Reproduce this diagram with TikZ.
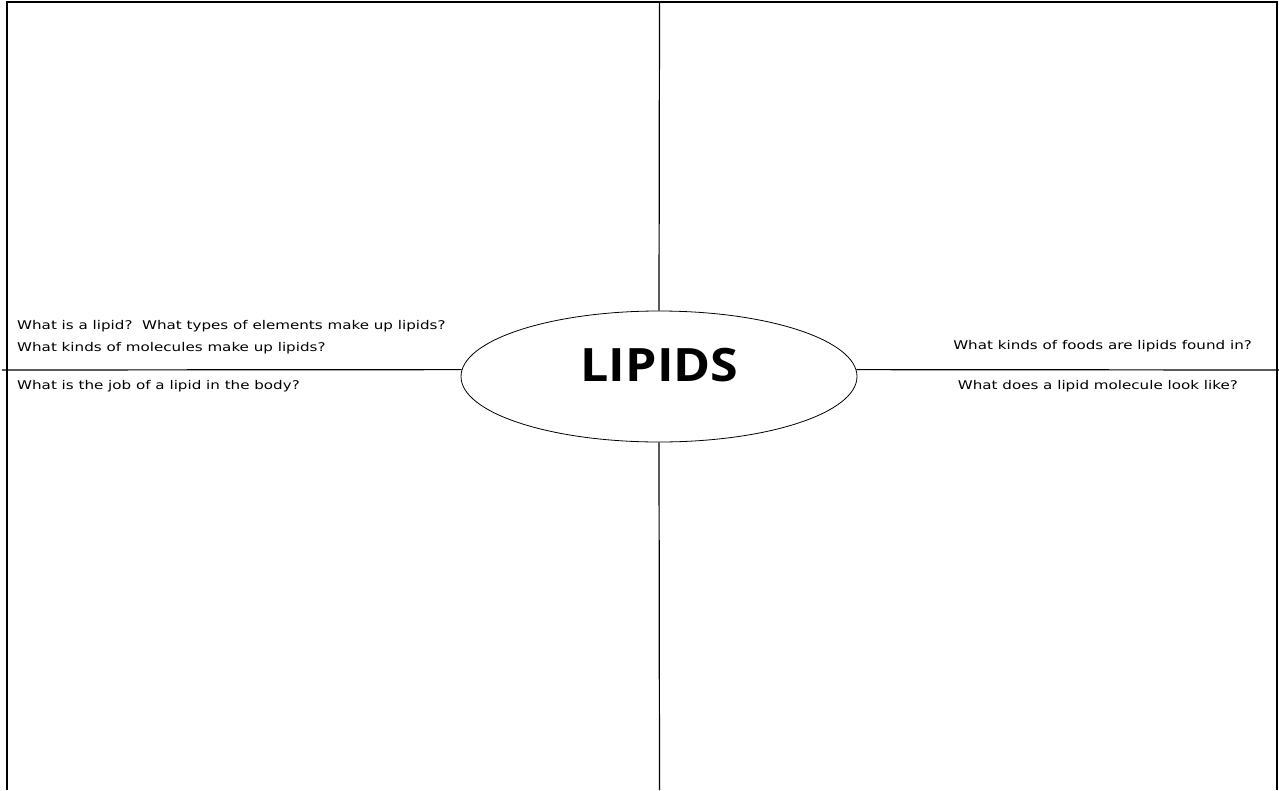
\documentclass[tikz,border=0pt]{standalone}
\usepackage{fontspec}
\usepackage{tikz}
\usetikzlibrary{shapes.geometric, positioning}
\newfontfamily\qfont{DejaVu Sans}
\newfontfamily\titlefont{Open Sans}
\newcommand{\widetext}[1]{\scalebox{1.26}[1]{#1}}
\tikzset{
	frameline/.style={draw=black, line width=1.2pt},
	centre/.style={ellipse, draw=black, line width=0.8pt, minimum width=396pt, minimum height=131pt, inner sep=0pt, fill=white},
	question/.style={inner sep=0pt, font=\qfont\fontsize{12}{14}\selectfont},
}
\begin{document}
\begin{tikzpicture}[x=1pt, y=-1pt]
	\useasboundingbox (0,0) rectangle (1279,790);
	% outer frame, open at the bottom
	\coordinate (bl) at (7,790);
	\coordinate (tl) at (7,2);
	\coordinate (tr) at (1277,2);
	\coordinate (br) at (1277,790);
	\draw[frameline] (bl) -- (tl) -- (tr) -- (br);
	% central topic
	\node[centre] (core) at (659,376.5) {};
	\node[inner sep=0pt, font=\titlefont\bfseries\fontsize{46}{46}\selectfont] (title) at (659.5,365) {\scalebox{1.09}[1]{LIPIDS}};
	% dividing lines
	\coordinate (top) at (659.5,2);
	\coordinate (bottom) at (659.5,790);
	\coordinate (far left) at (2,370);
	\coordinate (far right) at (1279,370);
	\draw[frameline] (top) -- (core.north);
	\draw[frameline] (core.south) -- (bottom);
	\draw[frameline] (far left) -- (core.178);
	\draw[frameline] (core.2) -- (far right);
	% questions
	\node[question, anchor=base west] (q1) at (17,329) {\widetext{What is a lipid?\ \ What types of elements make up lipids?}};
	\node[question, anchor=base west] (q2) at (17,351) {\widetext{What kinds of molecules make up lipids?}};
	\node[question, anchor=base west] (q3) at (17,389.5) {\widetext{What is the job of a lipid in the body?}};
	\node[question, anchor=base east] (q4) at (1252,349.5) {\widetext{What kinds of foods are lipids found in?}};
	\node[question, anchor=base east] (q5) at (1238,389.5) {\widetext{What does a lipid molecule look like?}};
\end{tikzpicture}
\end{document}
